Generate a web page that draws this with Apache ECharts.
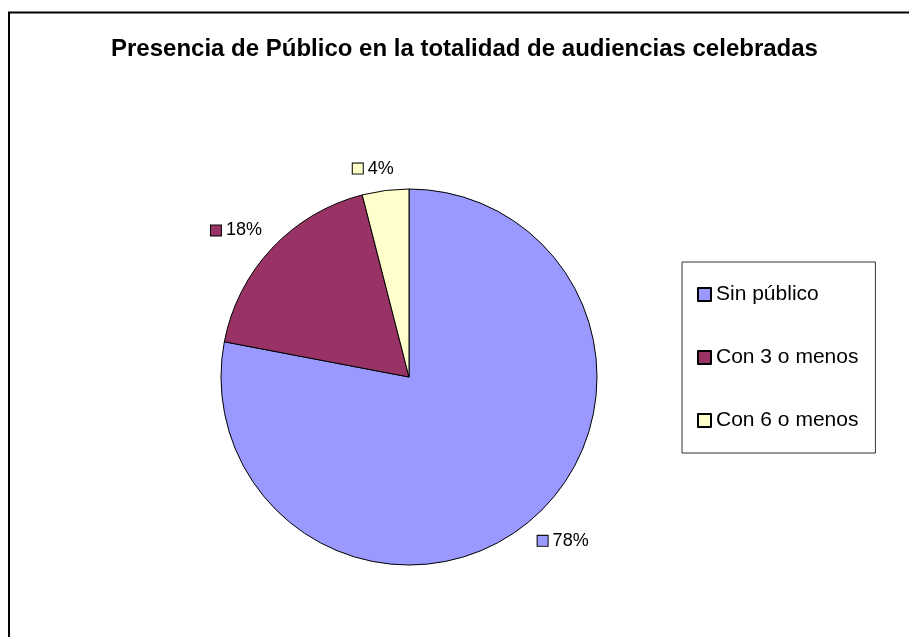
<!DOCTYPE html>
<html>
<head>
<meta charset="utf-8">
<script src="https://cdn.jsdelivr.net/npm/echarts@6/dist/echarts.min.js"></script>
<style>
html,body{margin:0;padding:0;background:#fff;}
#chart{width:909px;height:637px;}
</style>
</head>
<body>
<div id="chart"></div>
<script>
const titleText = 'Presencia de Público en la totalidad de audiencias celebradas';
const categories = ['Sin público', 'Con 3 o menos', 'Con 6 o menos'];
const values = [78, 18, 4];
const colors = ['#9999FF', '#993366', '#FFFFCC'];

const FONT = "'Liberation Sans', Arial, Helvetica, sans-serif";
const CX = 409, CY = 377, R = 188, GAP = 13;

const chart = echarts.init(document.getElementById('chart'), null, {renderer: 'canvas'});

const total = values.reduce((a, b) => a + b, 0);
const rich = {};
colors.forEach((c, i) => {
  rich['s' + i] = {width: 10, height: 10, backgroundColor: c, borderColor: '#000', borderWidth: 1};
});
rich.t = {fontSize: 18, fontFamily: FONT, color: '#000', padding: [0, 0, 0, 5]};

function clamp(v) { return Math.max(-1, Math.min(1, v)); }

const option = {
  backgroundColor: '#fff',
  animation: false,
  title: {
    text: titleText,
    left: 111,
    top: 37,
    padding: 0,
    textStyle: {fontSize: 24, fontWeight: 'bold', fontFamily: FONT, color: '#000'}
  },
  legend: {
    orient: 'vertical',
    left: 682,
    top: 262,
    padding: [22, 17, 22, 15],
    itemGap: 42,
    itemWidth: 13,
    itemHeight: 13,
    icon: 'rect',
    borderColor: '#333',
    borderWidth: 1,
    textStyle: {fontSize: 21, fontFamily: FONT, color: '#000'},
    data: categories
  },
  graphic: [{
    type: 'rect',
    silent: true,
    shape: {x: 9, y: 12.5, width: 1000, height: 1000},
    style: {fill: 'none', stroke: '#000', lineWidth: 2}
  }],
  series: [{
    type: 'pie',
    center: [CX, CY],
    radius: R,
    startAngle: 90,
    clockwise: true,
    data: categories.map((name, i) => ({
      name: name,
      value: values[i],
      itemStyle: {color: colors[i]}
    })),
    itemStyle: {borderColor: '#000', borderWidth: 1},
    label: {
      show: true,
      position: 'outside',
      formatter: function (p) { return '{s' + p.dataIndex + '|}{t|' + p.value + '%}'; },
      rich: rich
    },
    labelLine: {show: false},
    emphasis: {disabled: true},
    labelLayout: function (params) {
      const i = params.dataIndex;
      let cum = 0;
      for (let k = 0; k < i; k++) cum += values[k];
      const mid = (cum + values[i] / 2) / total * Math.PI * 2;
      const dx = Math.sin(mid), dy = -Math.cos(mid);
      const w = params.labelRect.width, h = params.labelRect.height;
      return {
        x: CX + (R + GAP) * dx + w / 2 * clamp(4 * dx),
        y: CY + (R + GAP) * dy + h / 2 * clamp(4 * dy),
        align: 'center',
        verticalAlign: 'middle'
      };
    }
  }]
};
chart.setOption(option);
</script>
</body>
</html>
